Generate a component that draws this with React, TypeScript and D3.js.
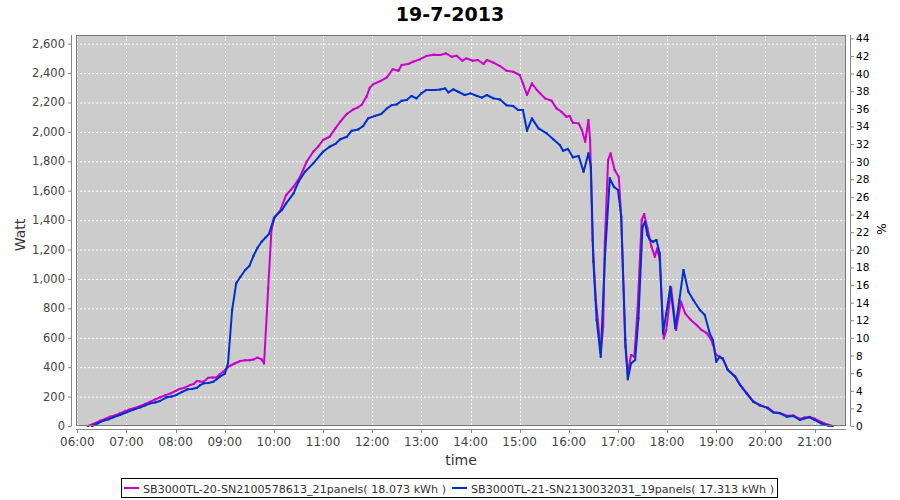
import React from "react";
import * as d3 from "d3";

const title = "19-7-2013";
const legendLabels = [
  "SB3000TL-20-SN2100578613_21panels( 18.073 kWh )",
  "SB3000TL-21-SN2130032031_19panels( 17.313 kWh )",
];
const seriesColors = ["#cc00cc", "#0030cc"];

const wattTicks = [0, 200, 400, 600, 800, 1000, 1200, 1400, 1600, 1800, 2000, 2200, 2400, 2600];
const pctTicks = [0, 2, 4, 6, 8, 10, 12, 14, 16, 18, 20, 22, 24, 26, 28, 30, 32, 34, 36, 38, 40, 42, 44];
const hourTicks = ["06:00", "07:00", "08:00", "09:00", "10:00", "11:00", "12:00", "13:00", "14:00", "15:00", "16:00", "17:00", "18:00", "19:00", "20:00", "21:00"];

const magentaTimes = [
  "06:13","06:20","06:28","06:34","06:40","06:46","06:52","06:58","07:04","07:10","07:17","07:23","07:29","07:35","07:41","07:47","07:54","08:00","08:05","08:12","08:18","08:22","08:26","08:30","08:34","08:40","08:45","08:50","08:54","08:58","09:02","09:06","09:12","09:19","09:25","09:30","09:35","09:40","09:45","09:48","09:53","09:57","10:01","10:07","10:15","10:24","10:32","10:40","10:48","10:54","11:00","11:08","11:15","11:21","11:29","11:37","11:42","11:47","11:53","11:57","12:01","12:10","12:18","12:25","12:32","12:36","12:44","12:50","12:58","13:06","13:15","13:23","13:30","13:37","13:43","13:50","13:55","14:03","14:09","14:16","14:20","14:28","14:36","14:44","14:52","15:00","15:04","15:09","15:15","15:21","15:25","15:31","15:39","15:45","15:51","15:57","16:01","16:05","16:12","16:16","16:20","16:24","16:26","16:29","16:33","16:37","16:39","16:42","16:44","16:48","16:51","16:56","17:01","17:04","17:09","17:12","17:16","17:20","17:24","17:29","17:32","17:36","17:41","17:45","17:48","17:51","17:56","17:59","18:05","18:11","18:17","18:22","18:29","18:36","18:42","18:48","18:54","19:00","19:04","19:08","19:14","19:23","19:29","19:37","19:45","19:53","20:03","20:10","20:18","20:26","20:34","20:42","20:48","20:54","21:00","21:08","21:17","21:22"
];
const magentaWatts = [
  0,15,36,48,63,72,86,100,113,122,136,150,165,180,195,208,222,238,252,262,279,285,306,303,301,328,330,331,352,369,390,408,425,442,447,447,452,465,453,426,936,1333,1423,1457,1571,1627,1695,1797,1865,1900,1945,1967,2024,2069,2122,2153,2165,2183,2239,2300,2323,2346,2371,2426,2416,2455,2462,2477,2493,2516,2525,2523,2534,2511,2518,2484,2500,2484,2489,2462,2489,2471,2448,2416,2409,2387,2330,2251,2330,2285,2262,2228,2212,2160,2137,2103,2108,2062,2058,2013,1933,2081,1945,1265,857,630,494,675,1253,1809,1854,1741,1695,1423,539,358,483,471,800,1401,1442,1344,1219,1151,1208,1129,596,653,936,653,845,766,721,687,653,634,585,483,471,455,385,338,282,225,170,140,125,95,88,70,72,48,58,62,50,28,8,0
];

const blueTimes = [
  "06:18","06:25","06:32","06:38","06:44","06:52","07:00","07:08","07:17","07:23","07:29","07:35","07:41","07:49","07:55","08:01","08:08","08:15","08:20","08:26","08:30","08:34","08:40","08:46","08:50","08:54","09:00","09:04","09:09","09:14","09:19","09:25","09:30","09:35","09:40","09:45","09:50","09:54","10:00","10:05","10:10","10:15","10:24","10:30","10:38","10:48","11:00","11:08","11:15","11:21","11:29","11:35","11:43","11:49","11:55","12:03","12:11","12:18","12:24","12:30","12:36","12:42","12:48","12:54","13:00","13:06","13:17","13:23","13:29","13:33","13:39","13:45","13:53","14:00","14:08","14:14","14:20","14:28","14:36","14:44","14:52","14:58","15:04","15:09","15:15","15:23","15:33","15:41","15:49","15:53","15:59","16:05","16:12","16:18","16:24","16:27","16:30","16:34","16:39","16:44","16:50","16:55","17:00","17:04","17:09","17:12","17:16","17:21","17:25","17:30","17:33","17:36","17:39","17:43","17:47","17:51","17:55","17:59","18:04","18:10","18:15","18:20","18:26","18:32","18:40","18:46","18:52","18:56","19:00","19:04","19:08","19:14","19:23","19:29","19:37","19:45","19:53","20:03","20:10","20:18","20:26","20:34","20:42","20:48","20:54","21:00","21:08","21:17","21:22"
];
const blueWatts = [
  0,18,36,45,59,75,93,110,127,140,154,160,170,195,200,211,232,250,252,260,278,290,292,301,318,335,354,428,789,972,1013,1061,1088,1156,1212,1253,1283,1306,1412,1446,1470,1514,1582,1661,1729,1786,1865,1899,1918,1950,1967,2008,2017,2040,2092,2108,2122,2160,2183,2187,2212,2217,2244,2228,2262,2285,2285,2289,2296,2269,2289,2273,2251,2262,2244,2233,2251,2228,2221,2181,2176,2149,2149,2008,2092,2024,1990,1950,1911,1872,1884,1827,1836,1729,1854,1763,1117,721,471,1140,1684,1627,1605,1423,585,318,426,449,732,1355,1389,1299,1265,1253,1265,1174,630,766,947,664,857,1061,913,857,789,755,630,585,437,471,460,381,335,279,222,165,143,120,91,86,63,68,41,52,59,41,18,2,0
];

const toMin = (s: string) => {
  const [h, m] = s.split(":").map(Number);
  return h * 60 + m;
};

const W = 900, H = 500;
const PL = 76, PR = 846, PT = 35, PB = 426;
const FONT = "DejaVu Sans, Verdana, sans-serif";

export default function App() {
  const x = d3.scaleLinear().domain([358.4, 1298.4]).range([PL, PR]);
  const y = d3.scaleLinear().domain([0, 2659]).range([PB, PT]);
  const yR = d3.scaleLinear().domain([0, 44.38]).range([PB, PT]);

  const series = [
    magentaTimes.map((t, i) => [toMin(t), magentaWatts[i]] as [number, number]),
    blueTimes.map((t, i) => [toMin(t), blueWatts[i]] as [number, number]),
  ];
  const line = d3.line<[number, number]>().x((d) => x(d[0])).y((d) => y(d[1]));

  const axisColor = "#888";
  const legendX = [124, 452];

  return (
    <svg width={W} height={H} style={{ position: "absolute", left: 0, top: 0, background: "#fff" }} fontFamily={FONT}>
      <rect x={0} y={0} width={W} height={H} fill="#fff" />
      <text x={450} y={21} textAnchor="middle" fontSize={19} fontWeight="bold" fill="#000">{title}</text>

      {/* plot background */}
      <rect x={PL} y={PT} width={PR - PL} height={PB - PT} fill="#cccccc" />
      {/* grid */}
      {wattTicks.map((v) => (
        <line key={"gy" + v} x1={PL} x2={PR} y1={y(v) + 0.5} y2={y(v) + 0.5} stroke="#fff" strokeDasharray="2,2" strokeWidth={1} />
      ))}
      {hourTicks.map((h) => (
        <line key={"gx" + h} x1={Math.round(x(toMin(h))) + 0.5} x2={Math.round(x(toMin(h))) + 0.5} y1={PT} y2={PB} stroke="#fff" strokeDasharray="2,2" strokeWidth={1} />
      ))}

      {/* series */}
      {series.map((s, i) => (
        <g key={"s" + i}>
          <path d={line(s) || ""} fill="none" stroke={seriesColors[i]} strokeWidth={2} strokeLinejoin="round" />
          {s.map((d, j) => (
            <rect key={j} x={x(d[0]) - 1} y={y(d[1]) - 1} width={2} height={2} fill={seriesColors[i]} />
          ))}
        </g>
      ))}
      <rect x={PL + 0.5} y={PT + 0.5} width={PR - PL - 1} height={PB - PT - 1} fill="none" stroke="#777" strokeWidth={1} />

      {/* left axis */}
      <line x1={71.5} x2={71.5} y1={PT} y2={PB} stroke={axisColor} />
      {wattTicks.map((v) => (
        <g key={"ly" + v}>
          <line x1={68} x2={71.5} y1={y(v) + 0.5} y2={y(v) + 0.5} stroke={axisColor} />
          <text x={65} y={y(v) + 4} textAnchor="end" fontSize={11.5} fill="#444">{d3.format(",")(v)}</text>
        </g>
      ))}
      <text transform={`translate(25,${235}) rotate(-90)`} textAnchor="middle" fontSize={14} fill="#333">Watt</text>

      {/* right axis */}
      <line x1={850.5} x2={850.5} y1={PT} y2={PB} stroke={axisColor} />
      {pctTicks.map((v) => (
        <g key={"ry" + v}>
          <line x1={850.5} x2={854} y1={yR(v) + 0.5} y2={yR(v) + 0.5} stroke={axisColor} />
          <text x={856} y={yR(v) + 4} textAnchor="start" fontSize={10.5} fill="#000">{v}</text>
        </g>
      ))}
      <text transform={`translate(886,${229}) rotate(-90)`} textAnchor="middle" fontSize={12} fill="#000">%</text>

      {/* bottom axis */}
      <line x1={PL} x2={PR} y1={429.5} y2={429.5} stroke={axisColor} />
      {hourTicks.map((h) => (
        <g key={"bx" + h}>
          <line x1={Math.round(x(toMin(h))) + 0.5} x2={Math.round(x(toMin(h))) + 0.5} y1={429.5} y2={433} stroke={axisColor} />
          <text x={x(toMin(h))} y={446} textAnchor="middle" fontSize={12} fill="#444">{h}</text>
        </g>
      ))}
      <text x={461} y={465} textAnchor="middle" fontSize={14} fill="#333">time</text>

      {/* legend */}
      <rect x={121.5} y={478.5} width={656} height={19} fill="#fff" stroke="#000" strokeWidth={1} />
      {legendLabels.map((l, i) => (
        <g key={"lg" + i}>
          <line x1={legendX[i]} x2={legendX[i] + 15} y1={488} y2={488} stroke={seriesColors[i]} strokeWidth={2} />
          <rect x={legendX[i] + 6.5} y={487} width={2} height={2} fill={seriesColors[i]} />
          <text x={legendX[i] + 19} y={492.5} fontSize={11.2} fill="#333" textLength={303} lengthAdjust="spacingAndGlyphs">{l}</text>
        </g>
      ))}
    </svg>
  );
}
